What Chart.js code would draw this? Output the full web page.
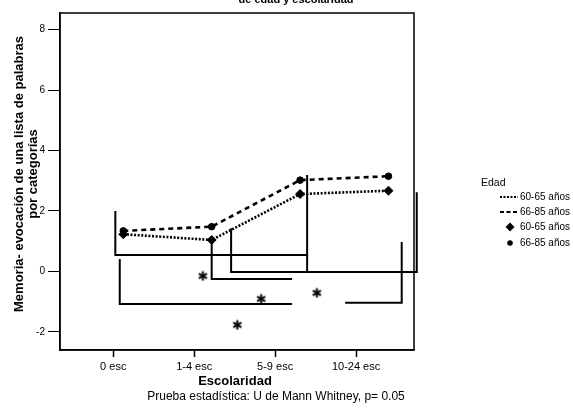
<!DOCTYPE html>
<html>
<head>
<meta charset="utf-8">
<script src="https://cdn.jsdelivr.net/npm/chart.js@4/dist/chart.umd.min.js"></script>
<style>
  html, body { margin: 0; padding: 0; background: #fff; }
  #wrap { width: 573px; height: 413px; position: relative; }
</style>
</head>
<body>
<div id="wrap"><canvas id="c"></canvas></div>
<script>
// Escolaridad groups and mean scores per age group
const categories = ['0 esc', '1-4 esc', '5-9 esc', '10-24 esc'];
const edad6065 = [1.23, 1.04, 2.56, 2.67];
const edad6685 = [1.34, 1.48, 3.02, 3.15];
const yTicks = [-2, 0, 2, 4, 6, 8];
const seriesNames = ['60-65 años', '66-85 años'];

// Significance brackets (x = group position, y = score units)
const bracketA = [[-0.09, 2.0], [-0.09, 0.54], [2.08, 0.54], [2.08, -0.02], [2.08, 3.19]];
const bracketB = [[3.32, 2.62], [3.32, -0.02], [1.22, -0.02], [1.22, 1.43]];
const bracketC = [[1.00, 1.04], [1.00, -0.25], [1.91, -0.25]];
const bracketD = [[-0.04, 0.41], [-0.04, -1.08], [1.91, -1.08]];
const bracketE = [[2.51, -1.04], [3.15, -1.04], [3.15, 0.97]];
const asterisks = [[0.90, -0.15], [1.56, -0.91], [2.19, -0.71], [1.29, -1.77]];

const FONT = '"Liberation Sans", Arial, Helvetica, sans-serif';

// small six-spoke asterisk used as a point style
function makeAsterisk(size) {
  const cv = document.createElement('canvas');
  cv.width = size; cv.height = size;
  const g = cv.getContext('2d');
  const c = size / 2, r = size / 2 - 0.8;
  g.strokeStyle = '#000';
  g.lineWidth = 2;
  g.lineCap = 'butt';
  [90, 30, 150].forEach(a => {
    const t = a * Math.PI / 180;
    g.beginPath();
    g.moveTo(c - r * Math.cos(t), c - r * Math.sin(t));
    g.lineTo(c + r * Math.cos(t), c + r * Math.sin(t));
    g.stroke();
  });
  return cv;
}

const toPts = arr => arr.map(([x, y]) => ({ x, y }));
const seriesPts = vals => vals.map((v, i) => ({ x: i, y: v }));

function bracketSet(arr) {
  return {
    data: toPts(arr), xAxisID: 'xd', showLine: true, clip: false,
    borderColor: '#000', borderWidth: 2, pointRadius: 0, fill: false
  };
}

const texts = {
  id: 'texts',
  afterDraw(chart) {
    const ctx = chart.ctx;
    const a = chart.chartArea;
    ctx.save();
    // frame
    ctx.strokeStyle = '#000';
    ctx.lineWidth = 1.5;
    ctx.strokeRect(a.left, a.top, a.right - a.left, a.bottom - a.top);

    ctx.fillStyle = '#000';
    ctx.textAlign = 'center';
    // clipped title line at the very top
    ctx.font = 'bold 11px ' + FONT;
    ctx.textBaseline = 'alphabetic';
    ctx.fillText('de edad y escolaridad', 296, 3);

    // y axis title, two lines
    ctx.save();
    ctx.translate(19, 174);
    ctx.rotate(-Math.PI / 2);
    ctx.font = 'bold 13px ' + FONT;
    ctx.textBaseline = 'middle';
    ctx.fillText('Memoria- evocación de una lista de palabras', 0, 0);
    ctx.fillText('por categorías', 0, 14);
    ctx.restore();

    // x axis title and note
    ctx.textBaseline = 'middle';
    ctx.font = 'bold 13px ' + FONT;
    ctx.fillText('Escolaridad', 235, 381);
    ctx.font = '12px ' + FONT;
    ctx.fillText('Prueba estadística: U de Mann Whitney, p= 0.05', 276, 397);

    // legend
    ctx.textAlign = 'left';
    ctx.font = '10.5px ' + FONT;
    ctx.fillText('Edad', 481, 183);
    ctx.font = '10px ' + FONT;
    const rows = [197, 212, 227, 243];
    const tx = 520;
    ctx.lineWidth = 2.2;
    ctx.setLineDash([2, 1.5]);
    ctx.beginPath(); ctx.moveTo(500, rows[0]); ctx.lineTo(518, rows[0]); ctx.stroke();
    ctx.setLineDash([4, 2.5]);
    ctx.beginPath(); ctx.moveTo(500, rows[1]); ctx.lineTo(518, rows[1]); ctx.stroke();
    ctx.setLineDash([]);
    ctx.beginPath();
    ctx.moveTo(510, rows[2] - 4.5); ctx.lineTo(514.5, rows[2]);
    ctx.lineTo(510, rows[2] + 4.5); ctx.lineTo(505.5, rows[2]); ctx.closePath(); ctx.fill();
    ctx.beginPath(); ctx.arc(510, rows[3], 2.8, 0, Math.PI * 2); ctx.fill();
    ctx.fillText(seriesNames[0], tx, rows[0]);
    ctx.fillText(seriesNames[1], tx, rows[1]);
    ctx.fillText(seriesNames[0], tx, rows[2]);
    ctx.fillText(seriesNames[1], tx, rows[3]);
    ctx.restore();
  }
};

new Chart(document.getElementById('c'), {
  type: 'scatter',
  data: {
    datasets: [
      { label: seriesNames[0], data: seriesPts(edad6065), xAxisID: 'xd', showLine: true,
        borderColor: '#000', borderWidth: 2.6, borderDash: [2, 1.6], pointRadius: 0 },
      { label: seriesNames[1], data: seriesPts(edad6685), xAxisID: 'xd', showLine: true,
        borderColor: '#000', borderWidth: 2.6, borderDash: [5, 4], pointRadius: 0 },
      { label: seriesNames[0], data: seriesPts(edad6065), xAxisID: 'xd', showLine: false,
        pointStyle: 'rectRot', pointRadius: 4.5, backgroundColor: '#000', borderColor: '#000' },
      { label: seriesNames[1], data: seriesPts(edad6685), xAxisID: 'xd', showLine: false,
        pointStyle: 'circle', pointRadius: 3.3, backgroundColor: '#000', borderColor: '#000' },
      bracketSet(bracketA),
      bracketSet(bracketB),
      bracketSet(bracketC),
      bracketSet(bracketD),
      bracketSet(bracketE),
      { data: toPts(asterisks), xAxisID: 'xd', showLine: false,
        pointStyle: makeAsterisk(11), pointRadius: 5.5 }
    ]
  },
  options: {
    responsive: true,
    maintainAspectRatio: false,
    animation: false,
    layout: { padding: { left: 0, top: 13, right: 159, bottom: 0 } },
    plugins: { legend: { display: false }, tooltip: { enabled: false }, title: { display: false } },
    scales: {
      x: {
        type: 'linear', position: 'bottom', min: -0.658, max: 3.716,
        afterBuildTicks: s => { s.ticks = categories.map((_, i) => ({ value: i })); },
        afterFit: s => { s.height = 63; },
        ticks: { color: '#000', font: { family: FONT, size: 11 }, padding: 3,
                 callback: v => categories[v] },
        grid: { drawOnChartArea: false, drawTicks: true, tickLength: 7, tickColor: '#000', tickWidth: 1.5 },
        border: { display: true, color: '#000', width: 1.5 }
      },
      xd: {
        type: 'linear', display: false, min: -0.716, max: 3.289
      },
      y: {
        type: 'linear', min: -2.6, max: 8.55,
        afterBuildTicks: s => { s.ticks = yTicks.map(v => ({ value: v })); },
        afterFit: s => { s.width = 60; },
        ticks: { color: '#000', font: { family: FONT, size: 10 }, padding: 3 },
        grid: { drawOnChartArea: false, drawTicks: true, tickLength: 12, tickColor: '#000', tickWidth: 1 },
        border: { display: true, color: '#000', width: 1.5 }
      }
    }
  },
  plugins: [texts]
});
</script>
</body>
</html>
